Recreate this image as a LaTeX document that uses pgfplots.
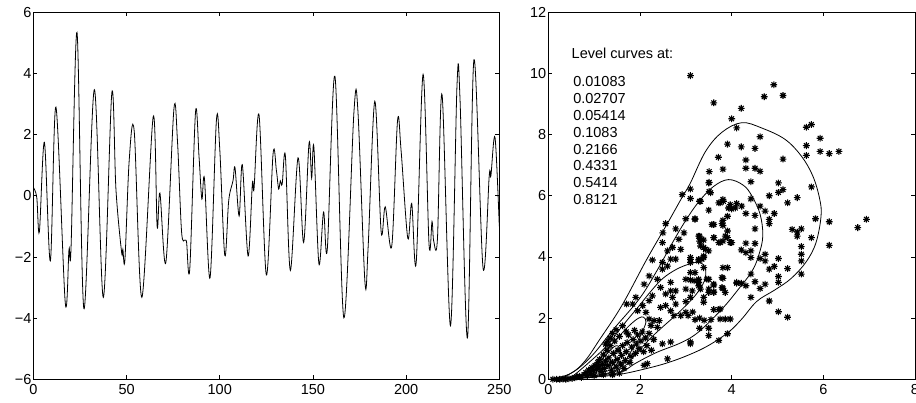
\documentclass[border=0pt]{standalone}
\usepackage{fontspec}
\setmainfont{Liberation Sans}
\usepackage{pgfplots}
\pgfplotsset{compat=1.18}
\pgfdeclareplotmark{mstar}{%
 \pgfpathmoveto{\pgfqpoint{-\pgfplotmarksize}{0pt}}\pgfpathlineto{\pgfqpoint{\pgfplotmarksize}{0pt}}%
 \pgfpathmoveto{\pgfqpoint{0pt}{-\pgfplotmarksize}}\pgfpathlineto{\pgfqpoint{0pt}{\pgfplotmarksize}}%
 \pgfpathmoveto{\pgfqpoint{-.7071\pgfplotmarksize}{-.7071\pgfplotmarksize}}\pgfpathlineto{\pgfqpoint{.7071\pgfplotmarksize}{.7071\pgfplotmarksize}}%
 \pgfpathmoveto{\pgfqpoint{-.7071\pgfplotmarksize}{.7071\pgfplotmarksize}}\pgfpathlineto{\pgfqpoint{.7071\pgfplotmarksize}{-.7071\pgfplotmarksize}}%
 \pgfusepathqstroke}
\pgfplotsset{mystyle/.style={
  scale only axis, tick align=inside, major tick length=4pt,
  xtick pos=both, ytick pos=both,
  axis line style={line width=0.9pt, black},
  every tick/.style={black, line width=0.7pt},
  tick label style={font=\fontsize{14.5}{17}\selectfont},
  xticklabel style={yshift=-1.5pt},
  yticklabel style={xshift=1.5pt},
}}
\begin{document}
\begin{tikzpicture}
\useasboundingbox (0,0) rectangle (916pt,403pt);
\begin{axis}[mystyle, at={(33.4pt,23.7pt)}, anchor=south west,
  width=465.9pt, height=367pt,
  xmin=0, xmax=250, ymin=-6, ymax=6,
  xtick={0,50,100,150,200,250}, xticklabels={0,50,100,150,200,250},
  ytick={-6,-4,-2,0,2,4,6}, yticklabels={−6,−4,−2,0,2,4,6}]
\addplot[black, line width=0.8pt, smooth, tension=0.55] table {
0 0.27
1.8 -0.05
3.2 -1.18
5.9 1.75
9.1 -2.13
12.1 2.9
17.1 -3.5
19.1 -1.75
20.2 -1.70
23.4 5.34
27.1 -3.69
32.7 3.47
37.5 -3.32
42.1 3.37
44.3 0.2
47.3 -1.83
48.0 -1.75
49.1 -2.10
51.4 1.15
54.1 2.11
58.2 -3.32
64.3 2.59
66.4 -1.00
67.9 0.09
71.1 -2.17
75.4 2.84
77.3 1.8
79.5 -1.17
81.3 -1.45
82.2 -1.52
83.9 -2.40
87.0 2.74
88.9 1.26
90.4 -0.11
91.8 0.55
94.8 -2.68
98.2 2.46
100.0 1.53
102.7 -1.95
104.8 -0.16
107.1 0.49
108.2 0.91
110.4 -0.66
112.1 1.02
115.2 -1.97
117.5 0.40
118.4 0.24
121.1 2.63
125.0 -2.59
128.6 1.37
130.4 0.82
131.6 0.22
132.5 0.49
133.5 0.38
135.2 1.31
137.9 -2.44
142.0 1.24
145.0 -1.53
147.9 1.72
149.3 0.58
150.5 1.59
153.2 -2.22
155.7 -0.53
157.7 -1.75
161.8 3.91
166.6 -3.99
172.0 2.74
174.1 2.81
177.9 -2.82
179.6 -1.70
183.2 3.09
186.6 -1.17
188.8 -0.36
192.3 -1.64
195.4 2.46
197.3 1.48
200.9 -1.39
203.0 -0.25
205.4 -2.19
209.1 3.97
212.3 -1.59
213.9 -0.84
214.8 -1.48
216.8 -1.42
219.3 3.30
223.8 -4.25
227.3 3.61
228.9 3.2
232.9 -4.65
236.4 4.45
241.3 -2.37
244.6 0.66
245.5 0.66
247.7 1.91
250 -1.0
};
\end{axis}
\begin{axis}[mystyle, at={(548.3pt,23.7pt)}, anchor=south west,
  width=366.7pt, height=367pt,
  xmin=0, xmax=8, ymin=0, ymax=12,
  xtick={0,2,4,6,8}, xticklabels={0,2,4,6,8},
  ytick={0,2,4,6,8,10,12}, yticklabels={0,2,4,6,8,10,12}]
% contours
\addplot[black, line width=0.8pt, smooth, tension=0.6] table {
0.12 0.02
0.5 0.2
0.8 0.6
1.12 1.3
1.6 2.4
2.14 3.9
2.6 5.1
2.9 5.9
3.1 6.42
3.43 7.45
3.79 8.08
4.22 8.39
4.65 8.22
5.16 7.85
5.52 7.3
5.77 6.65
5.92 5.9
5.95 5.33
5.84 4.47
5.63 3.85
5.3 3.3
4.94 2.92
4.55 2.55
4.22 1.97
3.93 1.54
3.5 1.11
3.07 0.8
2.56 0.52
2.0 0.3
1.55 0.16
1.0 0.07
0.5 0.02
0.12 0.02
};
\addplot[black, line width=0.8pt, smooth, tension=0.6] table {
0.3 0.04
0.65 0.35
1.0 0.85
1.4 1.6
1.98 2.62
2.35 3.5
2.71 4.47
3.0 5.2
3.28 5.8
3.6 6.3
3.93 6.53
4.25 6.35
4.44 6.0
4.62 5.4
4.68 4.7
4.6 4.1
4.45 3.55
4.15 2.95
3.79 2.3
3.28 1.55
2.9 1.2
2.35 0.87
1.9 0.52
1.62 0.26
1.2 0.12
0.7 0.05
0.3 0.04
};
\addplot[black, line width=0.8pt, smooth, tension=0.6] table {
0.5 0.06
0.85 0.5
1.28 1.1
1.62 1.75
1.98 2.4
2.25 2.9
2.5 3.3
2.8 3.6
3.1 3.78
3.32 3.82
3.43 3.6
3.4 3.2
3.2 2.73
2.85 2.19
2.5 1.72
2.2 1.3
1.9 0.8
1.62 0.38
1.3 0.18
0.9 0.08
0.5 0.06
};
\addplot[black, line width=0.8pt, smooth, tension=0.6] table {
0.75 0.12
1.1 0.65
1.45 1.25
1.77 1.76
1.97 2.0
2.08 2.03
2.13 1.87
2.05 1.55
1.95 1.25
1.8 0.9
1.62 0.46
1.4 0.25
1.1 0.15
0.75 0.12
};
\addplot[black, line width=0.8pt, smooth, tension=0.6] table {
0.9 0.2
1.2 0.7
1.45 1.08
1.57 1.0
1.55 0.65
1.4 0.35
1.15 0.22
0.9 0.2
};
\addplot[black, line width=0.8pt, smooth, tension=0.6] table {
1.0 0.28
1.22 0.62
1.42 0.8
1.47 0.62
1.33 0.38
1.0 0.28
};
\addplot[black, line width=0.8pt, smooth, tension=0.6] table {
1.1 0.38
1.28 0.58
1.38 0.56
1.28 0.4
1.1 0.38
};
\addplot[black, line width=0.8pt, smooth, tension=0.6] table {
1.2 0.44
1.29 0.51
1.3 0.45
1.2 0.44
};
% data
\addplot[only marks, mark=mstar, mark size=3.4pt, mark options={line width=1.1pt, black}] table {
3.10 9.93
3.61 9.04
4.21 8.86
4.00 8.52
4.11 8.22
4.71 9.24
4.92 9.63
5.12 9.28
5.63 8.24
5.74 8.33
5.93 7.88
5.63 7.64
5.63 7.32
5.93 7.45
6.13 7.38
6.34 7.45
4.62 7.93
3.91 7.69
4.21 7.60
4.51 7.55
3.71 7.26
4.31 7.17
5.12 7.20
3.51 6.79
3.81 6.87
4.31 6.90
4.51 6.90
4.62 6.80
3.51 6.44
4.42 6.46
5.02 6.42
3.51 6.14
5.02 6.11
5.12 6.20
5.74 6.29
3.10 6.22
4.82 6.00
5.43 5.94
3.81 5.88
3.30 5.82
3.72 5.77
3.82 5.82
3.93 5.60
4.00 5.57
4.11 5.75
4.22 5.66
4.42 5.90
5.22 5.77
4.62 5.66
4.73 5.50
4.93 5.42
4.82 5.23
4.82 5.09
4.31 5.42
4.51 5.36
3.50 5.53
3.91 5.33
3.81 5.20
3.81 5.03
3.61 5.06
3.20 5.23
3.91 4.85
3.91 4.63
4.51 4.92
3.61 4.63
3.72 4.47
3.81 4.52
4.00 4.47
3.30 4.68
3.39 4.55
3.30 4.52
3.39 4.31
3.50 4.20
3.39 4.03
4.31 4.45
4.51 4.44
4.21 4.23
4.31 4.14
4.42 4.20
4.42 3.98
4.62 3.95
4.73 4.09
4.73 3.87
5.02 3.95
4.82 3.60
4.93 3.69
5.22 3.62
5.32 4.90
5.43 4.81
5.52 4.92
5.43 4.68
5.74 4.63
5.83 5.25
6.13 5.15
6.13 4.38
6.75 4.96
6.94 5.23
5.52 4.34
5.52 4.09
5.52 3.87
5.52 3.44
5.02 3.36
5.02 3.17
4.73 3.11
4.62 2.97
4.51 3.19
4.31 3.06
4.21 3.14
4.11 3.14
4.42 3.44
3.81 3.65
3.91 3.65
3.81 3.30
3.81 2.97
4.42 2.68
4.82 2.56
5.02 2.21
5.22 2.03
3.72 2.28
3.50 1.67
3.50 1.43
3.72 1.27
3.91 1.49
3.30 1.67
3.10 1.16
3.50 2.95
3.61 2.86
3.39 2.68
3.39 2.52
3.28 3.27
3.28 3.06
3.50 3.27
3.61 3.08
3.20 3.49
3.39 3.65
3.10 3.25
3.10 3.92
3.28 3.92
3.39 3.98
3.15 2.20
3.05 2.08
3.30 2.00
3.20 1.95
3.40 1.93
3.61 2.28
2.92 6.04
3.10 5.91
3.50 6.42
3.54 6.10
3.32 5.82
3.97 5.71
4.08 5.60
3.75 5.77
3.00 5.25
3.20 5.25
2.56 5.09
2.78 4.92
2.50 4.79
3.57 5.06
3.79 5.09
3.61 4.63
3.75 4.47
3.86 4.68
3.97 4.47
2.96 4.79
2.85 4.58
3.28 4.68
3.35 4.58
3.32 4.36
3.43 4.25
2.60 4.20
2.71 4.31
2.89 4.25
2.49 4.47
2.27 3.90
2.49 3.82
2.67 3.93
2.78 3.93
3.10 3.98
3.10 3.82
3.28 3.87
3.35 3.93
2.49 3.60
2.60 3.70
2.20 3.38
2.09 3.11
2.38 3.27
2.45 3.00
2.67 3.17
2.67 2.89
2.56 2.79
2.71 2.68
2.78 2.89
3.00 3.27
3.10 3.49
3.18 3.22
3.00 2.95
3.14 2.89
3.28 3.17
3.32 2.95
3.46 3.27
3.61 3.11
3.50 2.84
3.61 2.84
3.79 3.33
3.79 3.00
3.86 2.84
4.11 3.17
3.00 2.54
3.10 2.68
2.27 2.73
2.20 2.57
2.06 2.41
1.95 2.24
2.13 2.19
1.91 2.68
1.84 2.46
1.71 2.46
2.56 2.41
2.45 2.35
2.67 2.24
2.74 2.08
2.78 2.46
2.89 2.08
3.00 2.19
3.75 2.30
3.75 1.97
3.86 1.97
3.97 1.97
3.55 1.95
2.20 1.97
2.31 1.92
2.42 1.92
2.24 1.76
2.38 1.70
2.49 1.16
2.67 1.22
3.10 1.22
2.60 0.67
2.16 0.51
2.09 0.46
0.10 0.00
0.18 0.00
0.25 0.00
0.32 0.01
0.38 0.00
0.45 0.02
0.52 0.03
0.58 0.05
0.62 0.08
0.68 0.10
0.72 0.06
0.78 0.15
0.82 0.22
0.85 0.12
0.88 0.30
0.92 0.20
0.95 0.38
0.98 0.28
1.02 0.45
1.05 0.32
1.08 0.55
1.10 0.40
1.12 0.65
1.15 0.25
1.18 0.48
1.20 0.80
1.22 0.35
1.25 0.60
1.28 0.95
1.30 0.45
1.32 0.70
1.35 1.10
1.38 0.30
1.40 0.55
1.42 0.85
1.45 1.25
1.48 0.40
1.50 0.65
1.52 0.95
1.55 1.40
1.58 0.50
1.60 0.78
1.62 1.10
1.65 0.35
1.68 0.62
1.70 0.90
1.72 1.20
1.75 1.45
1.78 0.55
1.80 0.75
1.82 1.05
1.85 1.30
1.88 1.60
1.90 0.85
1.92 1.15
1.95 1.45
1.98 1.00
2.02 1.25
2.05 1.55
2.08 0.90
2.12 1.35
2.15 1.10
2.20 1.50
2.25 0.95
2.30 1.30
1.30 1.25
1.25 1.15
1.40 1.50
1.48 1.62
1.62 1.75
1.70 1.55
1.40 0.15
1.20 0.15
1.00 0.12
1.55 0.20
1.35 1.35
};
\node[anchor=base west, inner sep=0pt, font=\fontsize{14.5}{17}\selectfont] at (axis cs:0.507,10.485) {Level curves at:};
\node[anchor=base west, inner sep=0pt, font=\fontsize{14.5}{17}\selectfont] at (axis cs:0.54,9.561) {0.01083};
\node[anchor=base west, inner sep=0pt, font=\fontsize{14.5}{17}\selectfont] at (axis cs:0.54,9.012) {0.02707};
\node[anchor=base west, inner sep=0pt, font=\fontsize{14.5}{17}\selectfont] at (axis cs:0.54,8.462) {0.05414};
\node[anchor=base west, inner sep=0pt, font=\fontsize{14.5}{17}\selectfont] at (axis cs:0.54,7.912) {0.1083};
\node[anchor=base west, inner sep=0pt, font=\fontsize{14.5}{17}\selectfont] at (axis cs:0.54,7.363) {0.2166};
\node[anchor=base west, inner sep=0pt, font=\fontsize{14.5}{17}\selectfont] at (axis cs:0.54,6.813) {0.4331};
\node[anchor=base west, inner sep=0pt, font=\fontsize{14.5}{17}\selectfont] at (axis cs:0.54,6.263) {0.5414};
\node[anchor=base west, inner sep=0pt, font=\fontsize{14.5}{17}\selectfont] at (axis cs:0.54,5.714) {0.8121};
\end{axis}
\end{tikzpicture}
\end{document}
